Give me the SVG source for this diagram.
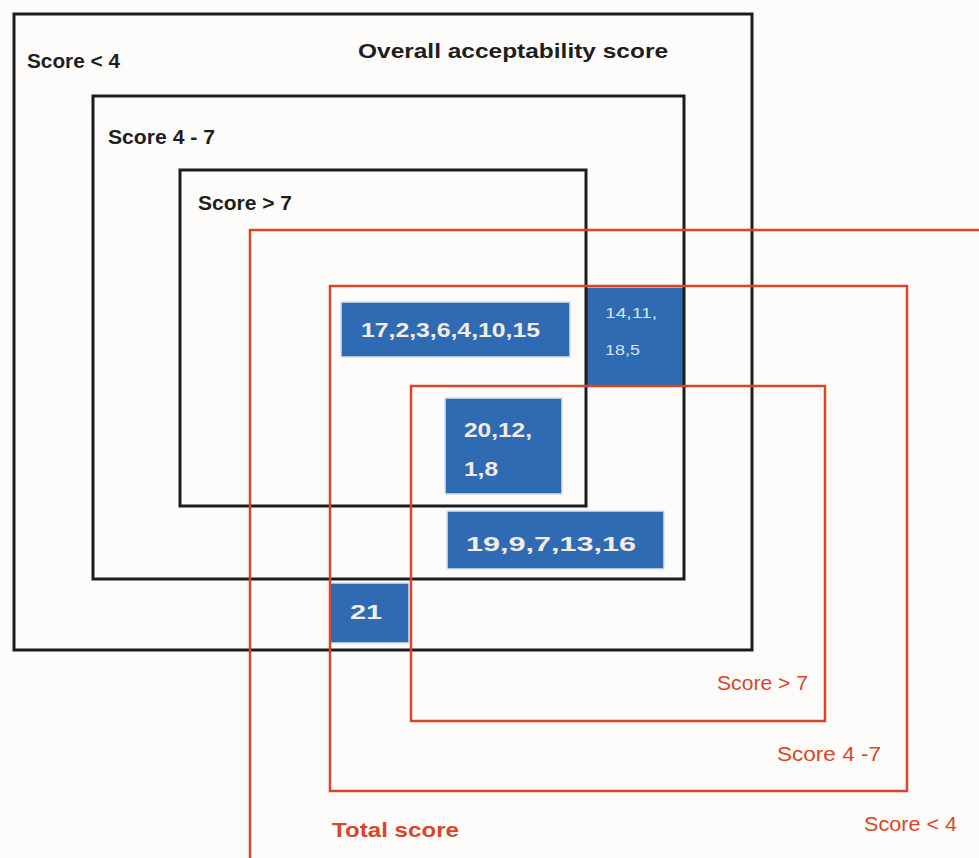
<svg xmlns="http://www.w3.org/2000/svg" width="979" height="858" viewBox="0 0 979 858">
  <style>
    .blk { fill: none; stroke: #1c1c1c; stroke-width: 3; }
    .red { fill: none; stroke: #d8452a; stroke-width: 2.5; }
    .cell { fill: #2f6bb2; stroke: #d9e3ee; stroke-width: 1.5; }
    .lbl { font-family: "Liberation Sans", Arial, sans-serif; font-weight: bold; fill: #1e1e1e; font-size: 21px; }
    .rlbl { font-family: "Liberation Sans", Arial, sans-serif; fill: #d8452a; font-size: 20px; }
    .rlblb { font-family: "Liberation Sans", Arial, sans-serif; font-weight: bold; fill: #d8452a; font-size: 21px; }
    .num { font-family: "Liberation Sans", Arial, sans-serif; font-weight: bold; fill: #f3ece6; font-size: 21px; }
    .nums { font-family: "Liberation Sans", Arial, sans-serif; fill: #d4e2f2; font-size: 15px; }
  </style>
  <rect width="979" height="858" fill="#fdfcfa"/>

  <!-- item groups placed in the overlapping score regions -->
  <g id="cell-17-2-3-6-4-10-15">
    <rect class="cell" x="341" y="302" width="229" height="55"/>
    <text class="num" x="361" y="337" textLength="179" lengthAdjust="spacingAndGlyphs">17,2,3,6,4,10,15</text>
  </g>
  <g id="cell-14-11-18-5">
    <rect class="cell" x="586" y="287" width="98" height="99"/>
    <text class="nums" x="605" y="318" textLength="52" lengthAdjust="spacingAndGlyphs">14,11,</text>
    <text class="nums" x="605" y="355" textLength="35" lengthAdjust="spacingAndGlyphs">18,5</text>
  </g>
  <g id="cell-20-12-1-8">
    <rect class="cell" x="445" y="398" width="117" height="96"/>
    <text class="num" x="464" y="437" textLength="68" lengthAdjust="spacingAndGlyphs">20,12,</text>
    <text class="num" x="464" y="476" textLength="34" lengthAdjust="spacingAndGlyphs">1,8</text>
  </g>
  <g id="cell-19-9-7-13-16">
    <rect class="cell" x="447" y="511" width="217" height="58"/>
    <text class="num" x="466" y="551" textLength="170" lengthAdjust="spacingAndGlyphs">19,9,7,13,16</text>
  </g>
  <g id="cell-21">
    <rect class="cell" x="330" y="583" width="79" height="60"/>
    <text class="num" x="350" y="619" textLength="32" lengthAdjust="spacingAndGlyphs">21</text>
  </g>

  <!-- region outlines -->
  <g id="connectors">
    <!-- overall acceptability score -->
    <rect class="blk" x="14" y="14" width="738" height="636"/>
    <rect class="blk" x="93" y="96" width="591" height="483"/>
    <rect class="blk" x="180" y="170" width="406" height="336"/>
    <!-- total score -->
    <path class="red" d="M250 858 V230 H979"/>
    <rect class="red" x="330" y="286" width="577" height="505"/>
    <rect class="red" x="411" y="386" width="414" height="335"/>
  </g>

  <g id="overall-labels">
    <text class="lbl" x="358" y="58" textLength="310" lengthAdjust="spacingAndGlyphs">Overall acceptability score</text>
    <text class="lbl" x="27" y="68" textLength="93" lengthAdjust="spacingAndGlyphs">Score &lt; 4</text>
    <text class="lbl" x="108" y="144" textLength="107" lengthAdjust="spacingAndGlyphs">Score 4 - 7</text>
    <text class="lbl" x="198" y="210" textLength="94" lengthAdjust="spacingAndGlyphs">Score &gt; 7</text>
  </g>

  <g id="total-labels">
    <text class="rlbl" x="717" y="690" textLength="91" lengthAdjust="spacingAndGlyphs">Score &gt; 7</text>
    <text class="rlbl" x="777" y="761" textLength="104" lengthAdjust="spacingAndGlyphs">Score 4 -7</text>
    <text class="rlbl" x="864" y="831" textLength="93" lengthAdjust="spacingAndGlyphs">Score &lt; 4</text>
    <text class="rlblb" x="332" y="837" textLength="127" lengthAdjust="spacingAndGlyphs">Total score</text>
  </g>
</svg>
